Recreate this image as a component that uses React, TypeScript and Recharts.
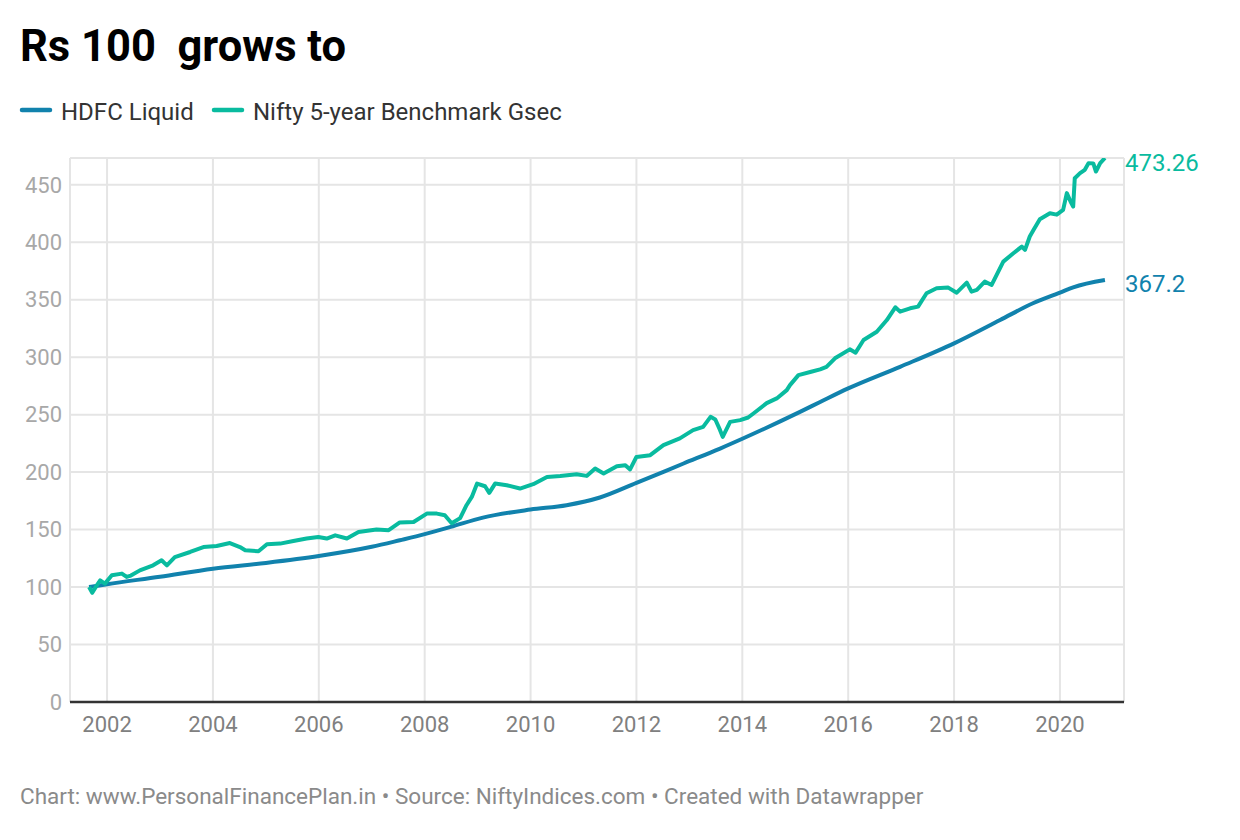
import React from 'react';
import { LineChart, Line, XAxis, YAxis, CartesianGrid } from 'recharts';

const hdfcYears = [2001.66, 2002.0, 2003.0, 2004.0, 2005.0, 2006.0, 2007.0, 2007.53, 2008.0, 2008.49, 2009.1, 2010.0, 2010.68, 2011.31, 2012.0, 2012.89, 2013.58, 2014.0, 2015.09, 2015.47, 2016.0, 2016.98, 2018.0, 2018.87, 2019.49, 2020.0, 2020.25, 2020.85];
const hdfcValues = [100, 102.5, 109, 116, 121, 127, 135, 140.7, 146, 152.3, 160.4, 167.4, 171.2, 177.9, 190.6, 207.5, 220.5, 229, 252.4, 261, 272.8, 291.6, 312, 332.3, 346.9, 356.1, 360.8, 367.2];

const niftyYears = [2001.66, 2001.72, 2001.8, 2001.87, 2001.96, 2002.09, 2002.28, 2002.37, 2002.45, 2002.62, 2002.87, 2003.03, 2003.13, 2003.28, 2003.57, 2003.82, 2004.07, 2004.32, 2004.51, 2004.61, 2004.86, 2005.02, 2005.27, 2005.52, 2005.77, 2005.99, 2006.15, 2006.31, 2006.53, 2006.75, 2007.09, 2007.32, 2007.53, 2007.79, 2008.04, 2008.23, 2008.38, 2008.51, 2008.67, 2008.79, 2008.89, 2008.99, 2009.14, 2009.22, 2009.33, 2009.55, 2009.8, 2010.05, 2010.31, 2010.56, 2010.87, 2011.06, 2011.22, 2011.38, 2011.63, 2011.79, 2011.88, 2012.0, 2012.26, 2012.51, 2012.82, 2013.07, 2013.26, 2013.4, 2013.49, 2013.58, 2013.63, 2013.77, 2013.96, 2014.11, 2014.21, 2014.46, 2014.65, 2014.84, 2014.9, 2015.06, 2015.3, 2015.47, 2015.59, 2015.75, 2016.03, 2016.14, 2016.29, 2016.54, 2016.73, 2016.89, 2016.98, 2017.17, 2017.32, 2017.48, 2017.67, 2017.89, 2018.05, 2018.24, 2018.33, 2018.43, 2018.58, 2018.71, 2018.93, 2019.12, 2019.28, 2019.34, 2019.43, 2019.5, 2019.62, 2019.81, 2019.94, 2020.06, 2020.13, 2020.2, 2020.25, 2020.28, 2020.38, 2020.47, 2020.54, 2020.63, 2020.68, 2020.76, 2020.85];
const niftyValues = [100, 95, 101, 105.8, 103, 110.2, 111.7, 108.8, 110, 114.5, 118.9, 123.3, 118.9, 126.1, 130.5, 134.8, 135.7, 138.3, 134.8, 132, 131.1, 137.2, 137.8, 140.1, 142.2, 143.6, 142.2, 145, 142.2, 147.9, 150, 149.5, 156.2, 156.6, 163.9, 163.9, 162.5, 155.5, 160, 171.2, 178.4, 190, 187.7, 181.9, 190, 188.6, 185.7, 189.5, 195.8, 196.7, 198.2, 196.7, 203.1, 198.8, 205.1, 206, 202.3, 213.2, 214.7, 223.4, 229.3, 236.5, 239.4, 248.1, 245.8, 236.5, 230.7, 243.7, 245.2, 247.5, 251, 260, 264.1, 271.3, 275.7, 284.4, 287.3, 289.4, 291.6, 299, 306.8, 303.9, 314.9, 322.1, 332.3, 343.4, 339.6, 342.5, 344, 355.6, 360, 360.5, 356.1, 364.8, 357, 358.5, 365.7, 362.8, 383.1, 390.4, 396.2, 393.3, 405, 410.7, 420, 425.2, 424, 428.1, 442.7, 435.4, 431, 455.7, 460.1, 463, 468.8, 468.5, 461.5, 468.8, 473.26];

const xTicks = [2002, 2004, 2006, 2008, 2010, 2012, 2014, 2016, 2018, 2020];
const yTicks = [0, 50, 100, 150, 200, 250, 300, 350, 400, 450];
const seriesNames = ['HDFC Liquid', 'Nifty 5-year Benchmark Gsec'];
const endLabels = ['367.2', '473.26'];

const BLUE = '#1182ad';
const GREEN = '#09bb9f';
const FONT = 'Roboto, sans-serif';

const hdfcData = hdfcYears.map((t, i) => ({ t, v: hdfcValues[i] }));
const niftyData = niftyYears.map((t, i) => ({ t, v: niftyValues[i] }));

const makeEndLabel = (text: string, color: string, n: number) => (props: any) => {
  const { x, y, index } = props;
  if (index !== n - 1) return null;
  return (
    <text x={x + 20} y={y + 12.5} fill={color} fontSize={24} fontFamily={FONT} textAnchor="start">
      {text}
    </text>
  );
};

export default function App() {
  return (
    <div style={{ position: 'absolute', left: 0, top: 0, width: 1240, height: 840, background: '#fff', fontFamily: FONT }}>
      <div style={{ position: 'absolute', left: 0, top: 0 }}>
        <LineChart width={1240} height={840} margin={{ top: 158, right: 116, bottom: 98, left: 0 }}>
          <CartesianGrid stroke="#e5e5e5" strokeWidth={2} />
          <XAxis
            dataKey="t"
            type="number"
            domain={[2001.3, 2021.21]}
            ticks={xTicks}
            allowDataOverflow
            tickLine={false}
            axisLine={{ stroke: '#333333', strokeWidth: 2.5 }}
            tick={{ fill: '#808080', fontSize: 22, fontFamily: FONT }}
            tickMargin={8}
            height={40}
          />
          <YAxis
            type="number"
            domain={[0, 473.26]}
            ticks={yTicks}
            allowDataOverflow
            width={70}
            tickLine={false}
            axisLine={false}
            tick={{ fill: '#a8a8a8', fontSize: 22, fontFamily: FONT }}
          />
          <Line
            data={hdfcData}
            dataKey="v"
            type="monotone"
            stroke={BLUE}
            strokeWidth={4}
            dot={false}
            isAnimationActive={false}
            label={makeEndLabel(endLabels[0], BLUE, hdfcData.length)}
          />
          <Line
            data={niftyData}
            dataKey="v"
            type="linear"
            stroke={GREEN}
            strokeWidth={4}
            strokeLinejoin="round"
            dot={false}
            isAnimationActive={false}
            label={makeEndLabel(endLabels[1], GREEN, niftyData.length)}
          />
        </LineChart>
      </div>
      <svg width={1240} height={840} style={{ position: 'absolute', left: 0, top: 0, pointerEvents: 'none' }}>
        <text x={20} y={61} fontFamily={FONT} fontWeight={700} fontSize={43.5} fill="#000" style={{ whiteSpace: 'pre' }}>Rs 100  grows to</text>
        <line x1={22} y1={110} x2={50} y2={110} stroke={BLUE} strokeWidth={4.5} strokeLinecap="round" />
        <text x={61} y={120} fontFamily={FONT} fontSize={24} fill="#333">{seriesNames[0]}</text>
        <line x1={214} y1={110} x2={242} y2={110} stroke={GREEN} strokeWidth={4.5} strokeLinecap="round" />
        <text x={253} y={120} fontFamily={FONT} fontSize={24} fill="#333">{seriesNames[1]}</text>
        <text x={20} y={804} fontFamily={FONT} fontSize={22.5} fill="#8a8a8a">Chart: www.PersonalFinancePlan.in • Source: NiftyIndices.com • Created with Datawrapper</text>
      </svg>
    </div>
  );
}
